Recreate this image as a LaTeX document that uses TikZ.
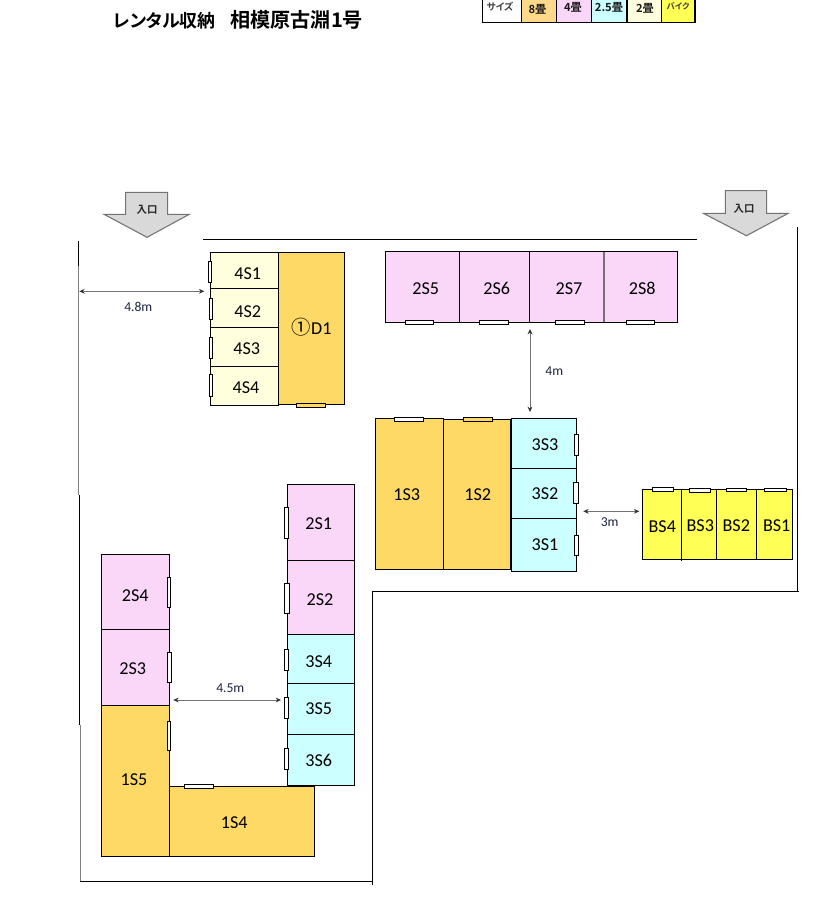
\documentclass[tikz,border=0pt]{standalone}
\usepackage{fontspec}
\setmainfont[Numbers=Lining]{Carlito}
\newfontfamily\jpfont[RawFeature=+palt]{Noto Sans CJK JP}
\newfontfamily\jpbold[RawFeature=+palt]{Noto Sans CJK JP Bold}
\usetikzlibrary{arrows.meta}
\definecolor{cEight}{HTML}{FFD966}
\definecolor{cFour}{HTML}{FAD6F8}
\definecolor{cThree}{HTML}{CCFFFF}
\definecolor{cTwo}{HTML}{FFFFDD}
\definecolor{cBike}{HTML}{FFFF55}
\definecolor{cLegEight}{HTML}{FFD98A}
\definecolor{cDimText}{HTML}{1A2440}
\tikzset{
  roomlabel/.style={font=\fontsize{13.6pt}{15pt}\selectfont,text=black,inner sep=0pt,text height=8.6pt,text depth=0pt},
  dimlabel/.style={font=\fontsize{10.2pt}{12pt}\selectfont,text=cDimText,inner sep=0pt},
  leglabel/.style={font=\jpbold\fontsize{8.4pt}{10pt}\selectfont,text=black!90,inner sep=0pt},
  legsmall/.style={font=\jpbold\fontsize{7.2pt}{9pt}\selectfont,text=black!75,inner sep=0pt},
  roombox/.style={draw=black,line width=0.8pt},
  doorbox/.style={draw=black,line width=0.7pt,fill=white},
  wall/.style={draw=black,line width=0.75pt},
  grayWall/.style={draw=black!50,line width=0.75pt},
  dimline/.style={draw=black!55,line width=0.6pt,{Stealth[length=4pt,width=3.6pt,color=black!80]}-{Stealth[length=4pt,width=3.6pt,color=black!80]}},
  entry/.style={draw=black!55,fill=black!15,line width=0.8pt},
  entrylabel/.style={font=\jpbold\fontsize{7.8pt}{9pt}\selectfont,text=black!85,inner sep=0pt}
}
\newcommand{\roomrect}[5]{\path[roombox,fill=#5] (#1,#2) rectangle (#3,#4);}
\newcommand{\doorrect}[4]{\path[doorbox] (#1,#2) rectangle (#3,#4);}
\begin{document}
\begin{tikzpicture}[x=0.75pt,y=-0.75pt]
\useasboundingbox (0,0) rectangle (813,906);
% title
\node[anchor=west,inner sep=0pt,font=\jpbold\fontsize{13.4pt}{17pt}\selectfont] (title) at (113,20) {レンタル収納\hspace{11pt}{\fontsize{15.1pt}{17pt}\selectfont 相模原古淵1号}};
% legend
\path[fill=cLegEight] (521.7,-1) rectangle (556.7,22.3);
\path[fill=cFour] (556.7,-1) rectangle (591.7,22.3);
\path[fill=cThree] (591.7,-1) rectangle (627,22.3);
\path[fill=cTwo] (627,-1) rectangle (661.7,22.3);
\path[fill=cBike] (661.7,-1) rectangle (695,22.3);
\draw[line width=0.8pt] (482.7,-1) -- (482.7,22.3) -- (695,22.3) -- (695,-1);
\foreach \xx in {521.7,556.7,591.7,627,661.7} \draw[line width=0.8pt] (\xx,-1) -- (\xx,22.3);
\node[legsmall] (lgA) at (500,6.5) {サイズ};
\node[leglabel] (lgB) at (537.5,9) {8畳};
\node[leglabel] (lgC) at (573,7.5) {4畳};
\node[leglabel] (lgD) at (609,7) {2.5畳};
\node[leglabel] (lgE) at (645,8.5) {2畳};
\node[legsmall,font=\jpbold\fontsize{6.2pt}{8pt}\selectfont] (lgF) at (678,6.5) {バイク};
% entrances
\path[entry] (125.7,192.3) -- (167.7,192.3) -- (167.7,214.3) -- (189.3,214.3) -- (147,237.3) -- (104,214.3) -- (125.7,214.3) -- cycle;
\node[entrylabel] (entL) at (147,210) {入口};
\path[entry] (725.3,190.7) -- (766.7,190.7) -- (766.7,213.3) -- (788.3,213.3) -- (746.5,235.7) -- (703.3,213.3) -- (725.3,213.3) -- cycle;
\node[entrylabel] (entR) at (744,208.5) {入口};
% walls
\draw[wall] (78.5,241) -- (78.5,266);
\draw[grayWall] (78.5,266) -- (78.5,495);
\draw[wall] (79.5,495) -- (79.5,725);
\draw[grayWall] (80.5,725) -- (80.5,881.5);
\draw[wall] (80,881.5) -- (372.5,881.5);
\draw[wall] (372.5,885) -- (372.5,591.5) -- (799,591.5);
\draw[wall] (797.5,591.5) -- (797.5,226.7);
\draw[wall] (203,239.5) -- (696.7,239.5);
% 4S + D1
\roomrect{210.3}{252.3}{278.3}{288.3}{cTwo}
\roomrect{210.3}{288.3}{278.3}{327.3}{cTwo}
\roomrect{210.3}{327.3}{278.3}{366.3}{cTwo}
\roomrect{210.3}{366.3}{278.3}{405.3}{cTwo}
\roomrect{278.3}{252.3}{344.3}{404.3}{cEight}
\doorrect{208.3}{261.3}{211.7}{282.7}
\doorrect{209.3}{298.3}{212.3}{319.7}
\doorrect{209.3}{337.3}{212.7}{358.3}
\doorrect{209.3}{374.3}{212.3}{396.7}
\path[doorbox,fill=cEight] (296.3,403) rectangle (325.7,407.3);
\node[roomlabel] (r4S1) at (247.7,274) {4S1};
\node[roomlabel] (r4S2) at (247.7,311.7) {4S2};
\node[roomlabel] (r4S3) at (246.7,349) {4S3};
\node[roomlabel] (r4S4) at (246,387.3) {4S4};
\node[roomlabel] (rD1) at (311.7,329) {{\jpfont\fontsize{14.5pt}{15pt}\selectfont ①}D1};
% 2S5-8
\roomrect{385.3}{251.3}{459.3}{322.3}{cFour}
\roomrect{459.3}{251.3}{529.3}{322.3}{cFour}
\roomrect{529.3}{251.3}{604}{322.3}{cFour}
\roomrect{604}{251.3}{677.3}{322.3}{cFour}
\draw[draw=black!55,line width=0.8pt] (604,251.8) -- (604,321.8);
\doorrect{405.3}{320.3}{433.3}{324.7}
\doorrect{479.3}{320.3}{508.7}{324.7}
\doorrect{555.3}{320.3}{584.7}{324.7}
\doorrect{626.3}{320.3}{654.7}{324.7}
\node[roomlabel] (r2S5) at (425.7,289) {2S5};
\node[roomlabel] (r2S6) at (496.7,289) {2S6};
\node[roomlabel] (r2S7) at (569,289) {2S7};
\node[roomlabel] (r2S8) at (642.3,289) {2S8};
% 1S3 1S2 3S
\roomrect{375.3}{418.3}{443.3}{569.3}{cEight}
\roomrect{443.3}{419.3}{510.7}{569.3}{cEight}
\roomrect{511.7}{418.3}{576.3}{468.3}{cThree}
\roomrect{511.7}{468.3}{576.3}{518.3}{cThree}
\roomrect{511.7}{518.3}{576.3}{571.5}{cThree}
\doorrect{394.3}{417.3}{423.7}{421.7}
\path[doorbox,fill=cEight] (463.3,417.3) rectangle (492.7,421.7);
\doorrect{574.3}{434.3}{578.3}{455.3}
\doorrect{573.3}{482.3}{578.3}{503.3}
\doorrect{574.3}{535.3}{578.3}{555.3}
\node[roomlabel] (r1S3) at (406.7,494.3) {1S3};
\node[roomlabel] (r1S2) at (477.7,494.3) {1S2};
\node[roomlabel] (r3S3) at (545,444.7) {3S3};
\node[roomlabel] (r3S2) at (545,493.7) {3S2};
\node[roomlabel] (r3S1) at (545,544.3) {3S1};
% BS
\roomrect{642.3}{489.3}{681.3}{559.3}{cBike}
\roomrect{681.3}{489.3}{716.7}{559.3}{cBike}
\roomrect{716.7}{489.3}{756.3}{559.3}{cBike}
\roomrect{756.3}{489.3}{792.3}{559.3}{cBike}
\draw[line width=0.8pt] (681.3,559) -- (681.3,561);
\doorrect{652.3}{487.3}{673.7}{491.3}
\doorrect{689.3}{488.3}{710.7}{492.7}
\doorrect{726.3}{488.3}{746.7}{491.7}
\doorrect{764.3}{488.3}{786.7}{491.7}
\node[roomlabel] (rBS4) at (662.3,526.7) {BS4};
\node[roomlabel] (rBS3) at (700.3,525.3) {BS3};
\node[roomlabel] (rBS2) at (736.3,525.3) {BS2};
\node[roomlabel] (rBS1) at (776.7,525.3) {BS1};
% right column lower
\roomrect{287.3}{484.3}{354.3}{560.3}{cFour}
\roomrect{287.3}{560.3}{354.3}{634.3}{cFour}
\roomrect{287.3}{634.3}{354.3}{683.3}{cThree}
\roomrect{287.3}{683.3}{354.3}{734.3}{cThree}
\roomrect{287.3}{734.3}{354.3}{785.3}{cThree}
% left column
\roomrect{101.3}{554.3}{169.3}{629.3}{cFour}
\roomrect{101.3}{629.3}{169.3}{705.3}{cFour}
\roomrect{101.3}{705.3}{169.3}{856.3}{cEight}
\roomrect{169.3}{786.3}{314.3}{856.3}{cEight}
\doorrect{284.3}{507.3}{288.7}{538.7}
\doorrect{284.3}{583.3}{289.7}{613.3}
\doorrect{284.3}{649.3}{288.7}{670.3}
\doorrect{284.3}{697.3}{288.7}{718.3}
\doorrect{284.3}{748.3}{288.7}{769.3}
\doorrect{167.3}{577.3}{170.7}{607.7}
\doorrect{167.3}{652.3}{171}{682.7}
\doorrect{167.3}{721.3}{170.7}{750.7}
\doorrect{184.3}{784.3}{213.7}{788.7}
\node[roomlabel] (r2S1) at (318.7,523.3) {2S1};
\node[roomlabel] (r2S2) at (320,600) {2S2};
\node[roomlabel] (r3S4) at (318.7,661.3) {3S4};
\node[roomlabel] (r3S5) at (318.7,709) {3S5};
\node[roomlabel] (r3S6) at (318.7,760.3) {3S6};
\node[roomlabel] (r2S4) at (135.3,595.7) {2S4};
\node[roomlabel] (r2S3) at (132.7,668.7) {2S3};
\node[roomlabel] (r1S5) at (134,779.3) {1S5};
\node[roomlabel] (r1S4) at (234.3,822.7) {1S4};
% dimensions
\coordinate (d48a) at (79.3,291.3); \coordinate (d48b) at (204.3,291.3);
\draw[dimline] (d48a) -- (d48b);
\node[dimlabel] (t48) at (138.3,307) {4.8m};
\coordinate (d4a) at (530,329); \coordinate (d4b) at (530,412);
\draw[dimline] (d4a) -- (d4b);
\node[dimlabel] (t4) at (554.3,370.7) {4m};
\coordinate (d3a) at (583.3,511.3); \coordinate (d3b) at (639.3,511.3);
\draw[dimline] (d3a) -- (d3b);
\node[dimlabel] (t3) at (609.7,521.7) {3m};
\coordinate (d45a) at (173.3,700); \coordinate (d45b) at (281,700);
\draw[dimline] (d45a) -- (d45b);
\node[dimlabel] (t45) at (230.3,688.3) {4.5m};
\end{tikzpicture}
\end{document}
